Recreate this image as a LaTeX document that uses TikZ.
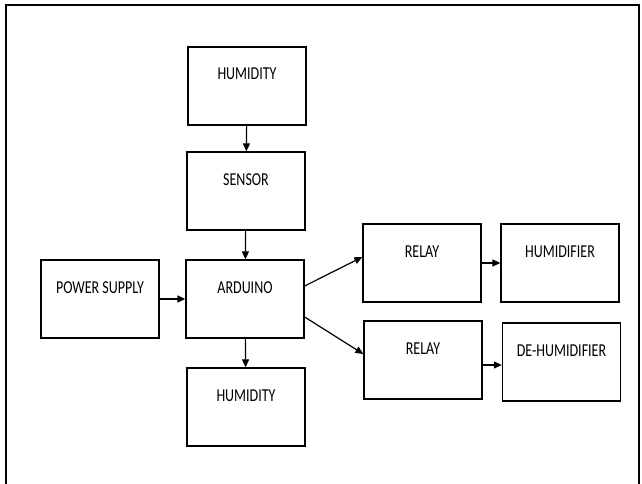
\documentclass[tikz,border=0pt]{standalone}
\usepackage{fontspec}
\setmainfont{Carlito}
\usepackage{graphicx}
\usetikzlibrary{arrows.meta}

\newcommand{\boxtext}[1]{\scalebox{1}[1.3]{#1}}

\begin{document}
\begin{tikzpicture}[x=1pt, y=-1pt,
	block/.style={draw, line width=1.3pt, minimum width=118pt, inner xsep=0pt,
		inner ysep=20pt, text height=13pt, text depth=25pt,
		font=\fontsize{14}{16}\selectfont},
	link/.style={line width=1.2pt, -{Triangle[length=8pt,width=7pt]}}]
\useasboundingbox (0,0) rectangle (642,484);
\draw[line width=1.8pt] (6,490) |- (639,5) -- (639,490);

\node[block] (humtop) at (247,86) {\boxtext{HUMIDITY}};
\node[block] (sensor) at (246,191) {\boxtext{SENSOR}};
\node[block] (arduino) at (245,299) {\boxtext{ARDUINO}};
\node[block] (power) at (100,299) {\boxtext{POWER SUPPLY}};
\node[block] (humbot) at (246,407) {\boxtext{HUMIDITY}};
\node[block] (relayA) at (422,263) {\boxtext{RELAY}};
\node[block] (humidifier) at (560,263) {\boxtext{HUMIDIFIER}};
\node[block] (relayB) at (423,360) {\boxtext{RELAY}};
\node[block] (dehumidifier) at (561.5,362) {\boxtext{DE-HUMIDIFIER}};

\draw[link] (humtop) -- (sensor);
\draw[link] (sensor) -- (arduino);
\draw[link] (power) -- (arduino);
\draw[link] (arduino) -- (humbot);
\draw[link] ([yshift=13pt]arduino.east) -- ([yshift=6pt]relayA.west);
\draw[link] ([yshift=-18pt]arduino.east) -- ([yshift=6pt]relayB.west);
\draw[link] (relayA) -- (humidifier);
\draw[link] ([yshift=-5pt]relayB.east) -- ([yshift=-3pt]dehumidifier.west);
\end{tikzpicture}
\end{document}
